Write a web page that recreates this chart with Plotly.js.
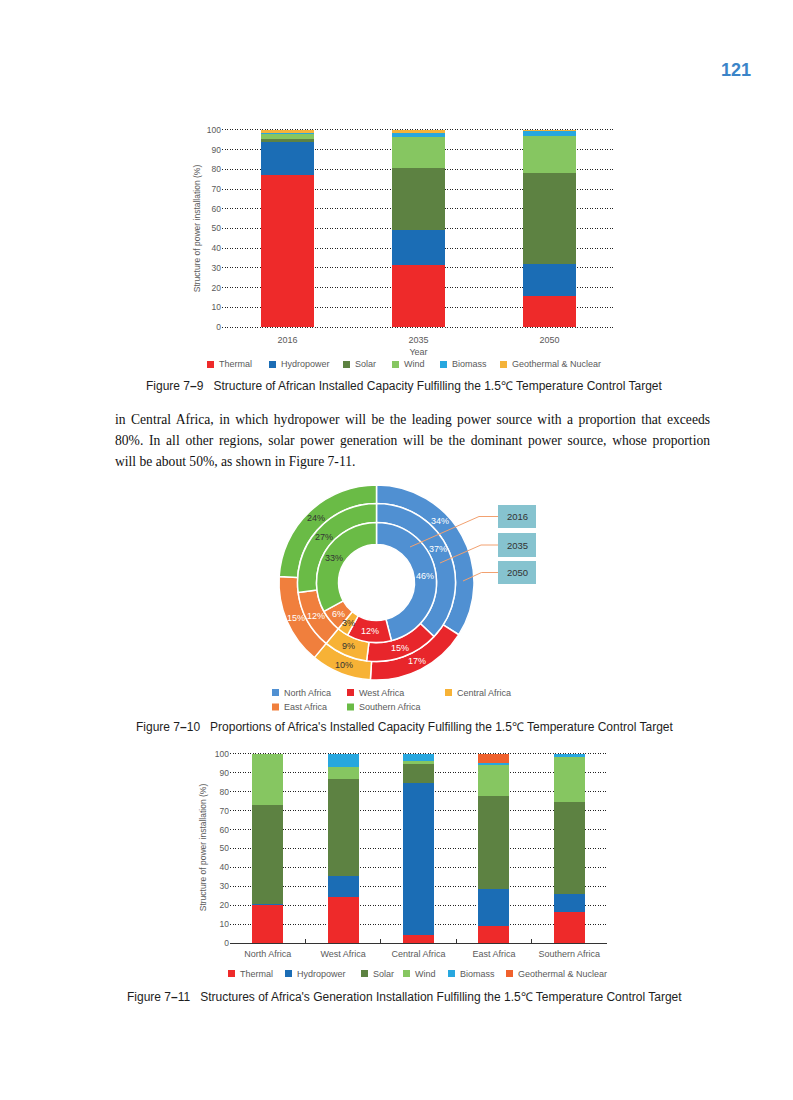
<!DOCTYPE html>
<html><head><meta charset="utf-8">
<script src="https://cdn.plot.ly/plotly-3.0.1.min.js"></script>
<style>
html,body{margin:0;padding:0;background:#fff;}
#page{position:relative;width:793px;height:1100px;overflow:hidden;background:#fff;}
#chart{position:absolute;left:0;top:0;width:793px;height:1100px;}
.para{position:absolute;left:115px;width:595px;font-family:"Liberation Serif","Times New Roman",serif;font-size:13.6px;line-height:18px;color:#111;}
.j{text-align:justify;text-align-last:justify;}
</style></head><body>
<div id="page"><div id="chart"></div>
<div class="para j" style="top:411px">in Central Africa, in which hydropower will be the leading power source with a proportion that exceeds</div>
<div class="para j" style="top:432px">80%. In all other regions, solar power generation will be the dominant power source, whose proportion</div>
<div class="para" style="top:453px">will be about 50%, as shown in Figure 7-11.</div>
</div>
<script>
// ---------- data ----------
const sources = ['Thermal','Hydropower','Solar','Wind','Biomass','Geothermal & Nuclear'];
const years = ['2016','2035','2050'];
const thermalYr = [77, 31.5, 16];
const hydroYr = [17, 17.7, 16];
const solarYr = [1.4, 31.7, 46];
const windYr = [2.8, 15.7, 19];
const biomassYr = [0.5, 1.7, 2.3];
const geoYr = [1.3, 1.7, 0.7];

const regions = ['North Africa','West Africa','Central Africa','East Africa','Southern Africa'];
const thermalReg = [20, 24.3, 4, 8.8, 16.4];
const hydroReg = [0.8, 11.3, 80.7, 19.8, 9.5];
const solarReg = [52, 51, 10, 49, 48.5];
const windReg = [27.2, 6.7, 1.4, 16.4, 24.2];
const biomassReg = [0, 6.7, 3.9, 1.2, 1.4];
const geoReg = [0, 0, 0, 4.8, 0];

const pieYears = ['2016','2035','2050'];
const share2016 = [46, 12, 3, 6, 33];
const share2035 = [37, 15, 9, 12, 27];
const share2050 = [34, 17, 10, 15, 24];

const yTicks = [0,10,20,30,40,50,60,70,80,90,100];

// ---------- styles ----------
const colTop = ['#ee2a2a','#1b6db5','#5d8242','#86c661','#27a7df','#f4b33a'];
const colBot = ['#ee2a2a','#1b6db5','#5d8242','#86c661','#27a7df','#f0612d'];
const colPie = ['#5090d2','#e8262b','#f7b236','#f07f3d','#6abb46'];
const pieTxt = ['#ffffff','#ffffff','#333333','#ffffff','#333333'];
const W = 793, H = 1100;
const X = p => p / W, Y = p => 1 - p / H;
const txtCol = '#5a5a5a';
const FONT = '"Liberation Sans", Arial, sans-serif';

const topSeries = [thermalYr, hydroYr, solarYr, windYr, biomassYr, geoYr];
const botSeries = [thermalReg, hydroReg, solarReg, windReg, biomassReg, geoReg];

const traces = [];
sources.forEach((s, i) => {
  traces.push({type:'bar', name:s, x:years, y:topSeries[i], xaxis:'x', yaxis:'y',
    marker:{color:colTop[i], line:{width:0}}, width:0.4, showlegend:false, hoverinfo:'skip'});
});
sources.forEach((s, i) => {
  traces.push({type:'bar', name:s, x:regions, y:botSeries[i], xaxis:'x2', yaxis:'y2',
    marker:{color:colBot[i], line:{width:0}}, width:0.41, showlegend:false, hoverinfo:'skip'});
});

const ann = [];
const shapes = [];

// concentric donuts: outer 2050, middle 2035, inner 2016
const cx = 376.5, cy = 582.5;
const rings = [
  {vals: share2050, r: 97.5, rin: 79, adj:[-15,0,0,0,0]},
  {vals: share2035, r: 79, rin: 60, adj:[-5,0,0,0,0]},
  {vals: share2016, r: 60, rin: 38, adj:[0,0,0,0,0]}
];
rings.forEach(rg => {
  traces.push({type:'pie', labels:regions, values:rg.vals, sort:false, direction:'clockwise', rotation:0,
    hole:rg.rin/rg.r, domain:{x:[X(cx-rg.r), X(cx+rg.r)], y:[Y(cy+rg.r), Y(cy-rg.r)]},
    marker:{colors:colPie, line:{color:'#ffffff', width:1.5}},
    textinfo:'none', showlegend:false, hoverinfo:'skip'});
  // percentage labels placed at the middle of each ring segment
  const tot = rg.vals.reduce((a,b)=>a+b,0);
  let cum = 0;
  const rm = (rg.r + rg.rin) / 2;
  rg.vals.forEach((v, i) => {
    const a = ((cum + v/2) / tot * 360 + rg.adj[i]) * Math.PI / 180;
    cum += v;
    ann.push({xref:'paper', yref:'paper', x:X(cx + rm*Math.sin(a)), y:Y(cy - rm*Math.cos(a)),
      xanchor:'center', yanchor:'middle', text:v + '%', showarrow:false,
      font:{size:9, color:pieTxt[i], family:FONT}});
  });
});

function legendRow(names, colors, sqLeft, yc, textOff){
  names.forEach((n, i) => {
    shapes.push({type:'rect', xref:'paper', yref:'paper', x0:X(sqLeft[i]), x1:X(sqLeft[i]+7),
      y0:Y(yc+3.5), y1:Y(yc-3.5), fillcolor:colors[i], line:{width:0}});
    ann.push({xref:'paper', yref:'paper', x:X(sqLeft[i]+textOff), y:Y(yc), xanchor:'left', yanchor:'middle',
      text:n, showarrow:false, font:{size:9, color:txtCol, family:FONT}});
  });
}
legendRow(sources, colTop, [207,269,343,392,440,500], 364.5, 10);
legendRow(sources, colBot, [228,285,361,403,448,506], 973.5, 10);
legendRow(regions.slice(0,3), colPie.slice(0,3), [272,347,445], 692.5, 10);
legendRow(regions.slice(3), colPie.slice(3), [272,347], 707, 10);

// callout boxes for donut years
const boxes = [
  {y0:505, y1:528, hx:479, ex:410, ey:547},
  {y0:533, y1:557, hx:481, ex:440, ey:563},
  {y0:561, y1:584, hx:481.5, ex:463, ey:581}
];
boxes.forEach((b, i) => {
  const ym = (b.y0 + b.y1) / 2;
  shapes.push({type:'path', xref:'paper', yref:'paper',
    path:`M${X(498)},${Y(ym)} L${X(b.hx)},${Y(ym)} L${X(b.ex)},${Y(b.ey)}`,
    line:{color:'#f2a170', width:1}});
  shapes.push({type:'rect', xref:'paper', yref:'paper', x0:X(498), x1:X(536), y0:Y(b.y1), y1:Y(b.y0),
    fillcolor:'#86c3cf', line:{width:0}});
  ann.push({xref:'paper', yref:'paper', x:X(517), y:Y(ym), xanchor:'center', yanchor:'middle',
    text:pieYears[i], showarrow:false, font:{size:9.5, color:'#333', family:FONT}});
});

// captions
const caps = [
  {y:386, t:'Figure 7<b>–</b>9   Structure of African Installed Capacity Fulfilling the 1.5℃ Temperature Control Target'},
  {y:727, t:'Figure 7<b>–</b>10   Proportions of Africa\'s Installed Capacity Fulfilling the 1.5℃ Temperature Control Target'},
  {y:997, t:'Figure 7<b>–</b>11   Structures of Africa\'s Generation Installation Fulfilling the 1.5℃ Temperature Control Target'}
];
caps.forEach(c => ann.push({xref:'paper', yref:'paper', x:X(404), y:Y(c.y), xanchor:'center', yanchor:'middle',
  text:c.t, showarrow:false, font:{size:12, color:'#1e1e1e', family:FONT}}));

// page number
ann.push({xref:'paper', yref:'paper', x:X(735.5), y:Y(70), xanchor:'center', yanchor:'middle',
  text:'<b>121</b>', showarrow:false, font:{size:18, color:'#3a84c8', family:FONT}});

const gridStyle = {showgrid:true, gridcolor:'#222', gridwidth:1, griddash:'1px,1.5px'};
const layout = {
  width:W, height:H, margin:{l:0,r:0,t:0,b:0}, paper_bgcolor:'#fff', plot_bgcolor:'rgba(0,0,0,0)',
  barmode:'stack', showlegend:false, font:{family:FONT, color:txtCol},
  xaxis:{domain:[X(222), X(615)], anchor:'y', type:'category', showgrid:false, showline:false, ticks:'',
    ticklabelstandoff:4,
    tickfont:{size:9, color:txtCol}, title:{text:'Year', font:{size:9, color:txtCol}, standoff:4}, fixedrange:true},
  yaxis:Object.assign({domain:[Y(329), Y(128)], anchor:'x', range:[-1,101], tickvals:yTicks, zeroline:false,
    showline:false, ticks:'', tickfont:{size:8.5, color:txtCol},
    title:{text:'Structure of power installation (%)', font:{size:8.5, color:txtCol}, standoff:4}, fixedrange:true}, gridStyle),
  xaxis2:{domain:[X(230), X(607)], anchor:'y2', type:'category', showgrid:false, showline:true, linecolor:'#333',
    linewidth:1, ticks:'inside', tickson:'boundaries', ticklen:4, tickcolor:'#333', ticklabelstandoff:2,
    tickfont:{size:9, color:txtCol}, fixedrange:true},
  yaxis2:Object.assign({domain:[Y(943), Y(752)], anchor:'x2', range:[0,101], tickvals:yTicks, zeroline:false,
    showline:false, ticks:'', tickfont:{size:8.5, color:txtCol},
    title:{text:'Structure of power installation (%)', font:{size:8.5, color:txtCol}, standoff:6}, fixedrange:true}, gridStyle),
  annotations:ann, shapes:shapes
};
Plotly.newPlot('chart', traces, layout, {staticPlot:true, displayModeBar:false});
</script>
</body></html>
